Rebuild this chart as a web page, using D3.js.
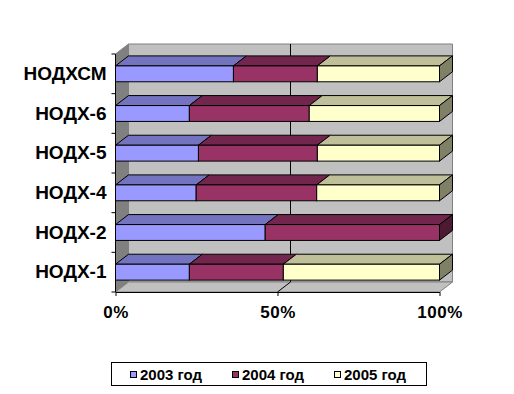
<!DOCTYPE html>
<html>
<head>
<meta charset="utf-8">
<script src="https://cdn.jsdelivr.net/npm/d3@7"></script>
<style>
  body { margin: 0; background: #fff; }
  svg { display: block; font-family: Arial, "Liberation Sans", sans-serif; }
</style>
</head>
<body>
<svg id="chart" width="514" height="394"></svg>
<script>
// categories as listed from the bottom bar upwards
const categories = ["НОДХ-1", "НОДХ-2", "НОДХ-4", "НОДХ-5", "НОДХ-6", "НОДХСМ"];
const seriesNames = ["2003 год", "2004 год", "2005 год"];
const v2003 = [22.8, 46.2, 24.9, 25.6, 22.8, 36.4];
const v2004 = [29.0, 53.8, 37.2, 36.7, 37.0, 25.9];
const v2005 = [48.2, 0, 37.9, 37.7, 40.2, 37.7];
const xTicks = [0, 0.5, 1];

const front = ['#9999ff', '#993366', '#ffffcc'];
const top_ = ['#7373bf', '#73264d', '#bfbf99'];
const side = ['#4d4d80', '#4d1a33', '#808066'];

// oblique depth of the 3d box
const dx = 13, dy = 10;

const rows = categories.map((c, i) => ({
    cat: c, "2003 год": v2003[i], "2004 год": v2004[i], "2005 год": v2005[i]
}));

const stacked = d3.stack()
    .keys(seriesNames)
    .offset(d3.stackOffsetExpand)(rows);

const x = d3.scaleLinear().domain([0, 1]).range([115.5, 439.5]);
const y = d3.scaleBand()
    .domain(categories.slice().reverse())
    .range([54, 292])
    .paddingInner(0.6)
    .paddingOuter(0.3);
const yEdge = d3.scaleLinear().domain([0, categories.length]).range([54, 292]);

const svg = d3.select('#chart');
const g = svg.append('g');

const poly = pts => 'M' + pts.map(p => p.join(',')).join('L') + 'Z';
const x0 = x(0), x1 = x(1), yT = yEdge(0), yB = yEdge(categories.length);

// back wall
g.append('path')
    .attr('d', poly([[x0 + dx, yT - dy], [x1 + dx, yT - dy], [x1 + dx, yB - dy], [x0 + dx, yB - dy]]))
    .attr('fill', '#c0c0c0').attr('stroke', '#808080');
// left wall
g.append('path')
    .attr('d', poly([[x0, yT], [x0 + dx, yT - dy], [x0 + dx, yB - dy], [x0, yB]]))
    .attr('fill', '#808080').attr('stroke', '#808080');
// floor
g.append('path')
    .attr('d', poly([[x0, yB], [x0 + dx, yB - dy], [x1 + dx, yB - dy], [x1, yB]]))
    .attr('fill', '#c0c0c0').attr('stroke', '#808080');

// gridline at 50%
g.append('path')
    .attr('d', `M${x(0.5) + dx},${yT - dy}V${yB - dy}L${x(0.5)},${yB}`)
    .attr('fill', 'none').attr('stroke', '#000');

// bars
stacked.forEach((s, si) => {
    s.forEach(d => {
        const a = x(d[0]), b = x(d[1]);
        if (b - a < 0.5) return;
        const yy = y(d.data.cat), h = y.bandwidth();
        g.append('path')
            .attr('d', poly([[a, yy], [a + dx, yy - dy], [b + dx, yy - dy], [b, yy]]))
            .attr('fill', top_[si]).attr('stroke', '#000');
        g.append('rect')
            .attr('x', a).attr('y', yy).attr('width', b - a).attr('height', h)
            .attr('fill', front[si]).attr('stroke', '#000');
        if (d[1] >= 0.999) {
            g.append('path')
                .attr('d', poly([[b, yy], [b + dx, yy - dy], [b + dx, yy + h - dy], [b, yy + h]]))
                .attr('fill', side[si]).attr('stroke', '#000');
        }
    });
});

// category axis
const yAxis = svg.append('g')
    .attr('transform', `translate(${x0},0)`)
    .call(d3.axisLeft(y).tickSize(0).tickPadding(9));
yAxis.select('.domain').remove();
yAxis.selectAll('text')
    .attr('font-size', 19).attr('font-weight', 'bold').attr('fill', '#000')
    .attr('font-family', 'Arial, "Liberation Sans", sans-serif');
svg.append('line')
    .attr('x1', x0).attr('x2', x0).attr('y1', yT).attr('y2', yB)
    .attr('stroke', '#000');
svg.selectAll('.ctick')
    .data(d3.range(categories.length + 1))
    .join('line')
    .attr('x1', x0 - 4).attr('x2', x0)
    .attr('y1', d => yEdge(d)).attr('y2', d => yEdge(d))
    .attr('stroke', '#000');

// value axis
const xAxis = svg.append('g')
    .attr('transform', `translate(0,${yB})`)
    .call(d3.axisBottom(x).tickValues(xTicks).tickFormat(d3.format('.0%')).tickSize(4).tickPadding(10).tickSizeOuter(0));
xAxis.select('.domain').attr('stroke', '#000');
xAxis.selectAll('line').attr('stroke', '#000');
xAxis.selectAll('text')
    .attr('font-size', 17).attr('font-weight', 'bold').attr('fill', '#000')
    .attr('letter-spacing', 0.5)
    .attr('font-family', 'Arial, "Liberation Sans", sans-serif');

// legend
const legend = svg.append('g');
legend.append('rect')
    .attr('x', 111.5).attr('y', 362.5).attr('width', 315).attr('height', 23)
    .attr('fill', '#fff').attr('stroke', '#000');
const item = legend.selectAll('.item')
    .data(seriesNames)
    .join('g')
    .attr('transform', (d, i) => `translate(${130 + i * 102},0)`);
item.append('rect')
    .attr('x', 0.5).attr('y', 371.5).attr('width', 6).attr('height', 6)
    .attr('fill', (d, i) => front[i]).attr('stroke', '#000');
item.append('text')
    .attr('x', 10).attr('y', 379.5)
    .attr('font-size', 15).attr('font-weight', 'bold')
    .text(d => d);
</script>
</body>
</html>
